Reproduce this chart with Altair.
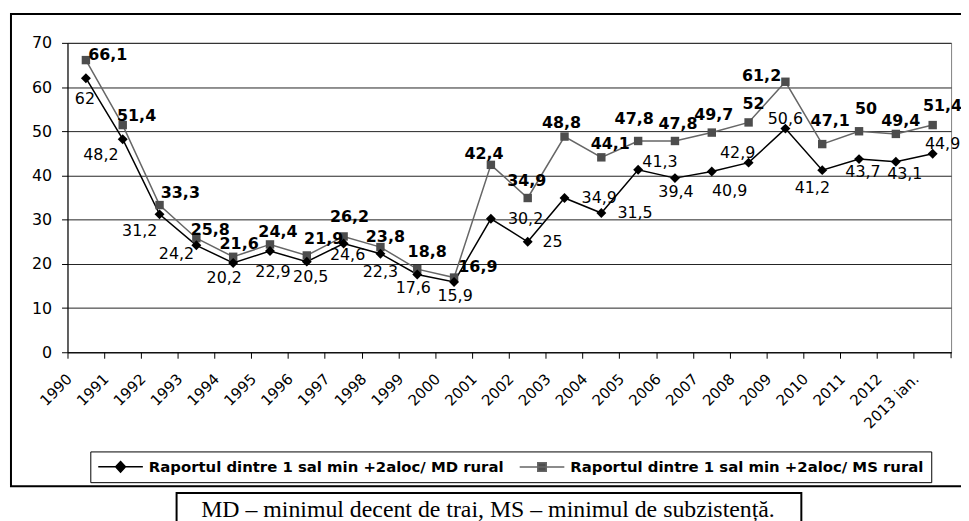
import altair as alt
import pandas as pd

years = ["1990", "1991", "1992", "1993", "1994", "1995", "1996", "1997", "1998",
         "1999", "2000", "2001", "2002", "2003", "2004", "2005", "2006", "2007",
         "2008", "2009", "2010", "2011", "2012", "2013 ian."]
md_values = [62, 48.2, 31.2, 24.2, 20.2, 22.9, 20.5, 24.6, 22.3, 17.6, 15.9, 30.2,
             25, 34.9, 31.5, 41.3, 39.4, 40.9, 42.9, 50.6, 41.2, 43.7, 43.1, 44.9]
ms_values = [66.1, 51.4, 33.3, 25.8, 21.6, 24.4, 21.9, 26.2, 23.8, 18.8, 16.9, 42.4,
             34.9, 48.8, 44.1, 47.8, 47.8, 49.7, 52, 61.2, 47.1, 50, 49.4, 51.4]
md_name = "Raportul dintre 1 sal min +2aloc/ MD rural"
ms_name = "Raportul dintre 1 sal min +2aloc/ MS rural"
footnote = "MD \u2013 minimul decent de trai, MS \u2013 minimul de subzisten\u021b\u0103."
y_ticks = [0, 10, 20, 30, 40, 50, 60, 70]

# label placement offsets (pixels) relative to the points
md_dx = [-1, -22, -20, -20, -9, 3, 4, 4, 0, -4, 1, 35, 25, 35, 34, 22, 1, 18, -11, 0, -10, 4, 9, 10]
md_dy = [21, 16, 17, 9, 15, 21, 16, 12, 19, 14, 14, 0, 0, 0, 0, -8, 14, 20, -10, -10, 18, 13, 12, -10]
ms_dx = [22, 14, 21, 14, 6, 8, 17, 6, 5, 10, 24, -7, -1, -3, 9, -4, 3, 2, 5, -24, 8, 7, 5, 10]
ms_dy = [-5, -9, -12, -8, -13, -12, -17, -20, -10, -17, -11, -11, -17, -14, -13, -22, -17, -18, -19, -6, -23, -22, -13, -19]

W, H = 891, 312
FONT = "DejaVu Sans"
MD_COLOR = "#000000"
MS_LINE = "#666666"
MS_FILL = "#4d4d4d"
HALF_BAND = W / len(years) / 2


def fmt(v):
    return f"{v:g}".replace(".", ",")


md_df = pd.DataFrame({"year": years, "value": md_values, "series": md_name,
                      "label": [fmt(v) for v in md_values], "dx": md_dx, "dy": md_dy})
ms_df = pd.DataFrame({"year": years, "value": ms_values, "series": ms_name,
                      "label": [fmt(v) for v in ms_values], "dx": ms_dx, "dy": ms_dy})
legend_df = pd.DataFrame({"year": [years[0], years[0]], "value": [md_values[0], ms_values[0]],
                          "series": [md_name, ms_name]})

x_enc = alt.X(
    "year:N", sort=years, bandPosition=0.5,
    scale=alt.Scale(type="band", paddingInner=0, paddingOuter=0),
    axis=alt.Axis(title=None, bandPosition=0, labelAngle=-45, labelAlign="right",
                  labelBaseline="middle", labelPadding=18, labelOffset=-HALF_BAND + 2,
                  labelFont=FONT, labelFontSize=15, labelColor="black",
                  tickColor="black", tickSize=6, domainColor="black", grid=False,
                  labelOverlap=False, labelLimit=300, labelBound=False, labelFlush=False),
)
y_enc = alt.Y(
    "value:Q",
    scale=alt.Scale(domain=[0, 70], nice=False, zero=True),
    axis=alt.Axis(title=None, values=y_ticks, labelFont=FONT, labelFontSize=16,
                  labelColor="black", labelPadding=10, tickSize=6, tickColor="black",
                  domainColor="black", grid=True, gridColor="#222222", gridWidth=1),
)

# legend symbols: a line with the marker in the middle (unit = 7.5 px)
md_path = "M-3,0L3,0M0,-0.72L0.66,0L0,0.72L-0.66,0Z"
ms_path = "M-3,0L3,0M-0.57,-0.57L0.57,-0.57L0.57,0.57L-0.57,0.57Z"

legend = alt.Legend(
    title=None, orient="none", legendX=23, legendY=412, direction="horizontal",
    symbolSize=225, symbolOffset=15, symbolStrokeWidth=1.5, symbolOpacity=1,
    labelFont=FONT, labelFontSize=15, labelFontWeight="bold", labelColor="black",
    labelOffset=20, columnPadding=12, padding=7, strokeColor="#000000",
    fillColor="white", labelLimit=1000,
)
dom = [md_name, ms_name]

one = pd.DataFrame({"t": [footnote]})

outer = alt.Chart(one).mark_rect(filled=False, color="black", strokeWidth=2, clip=False).encode(
    x=alt.value(-57), x2=alt.value(910), y=alt.value(-29), y2=alt.value(447))
foot_box = alt.Chart(one).mark_rect(filled=False, color="black", strokeWidth=2, clip=False).encode(
    x=alt.value(110), x2=alt.value(740), y=alt.value(454), y2=alt.value(495))
foot_text = alt.Chart(one).mark_text(font="Liberation Serif", fontSize=24, align="center",
                                     baseline="alphabetic", color="black").encode(
    x=alt.value(424), y=alt.value(478), text="t:N")
end_tick = alt.Chart(one).mark_rule(color="black").encode(
    x=alt.value(W), y=alt.value(H), y2=alt.value(H + 6))

legend_layer = alt.Chart(legend_df).mark_point(filled=True, opacity=0, strokeWidth=1.5).encode(
    x=x_enc, y=y_enc,
    shape=alt.Shape("series:N", scale=alt.Scale(domain=dom, range=[md_path, ms_path]), legend=legend),
    fill=alt.Fill("series:N", scale=alt.Scale(domain=dom, range=[MD_COLOR, MS_FILL]), legend=legend),
    stroke=alt.Stroke("series:N", scale=alt.Scale(domain=dom, range=[MD_COLOR, MS_LINE]), legend=legend),
)

md_line = alt.Chart(md_df).mark_line(strokeWidth=1.5, color=MD_COLOR).encode(x=x_enc, y=y_enc)
ms_line = alt.Chart(ms_df).mark_line(strokeWidth=1.5, color=MS_LINE).encode(x=x_enc, y=y_enc)
md_pts = alt.Chart(md_df).mark_point(shape="diamond", filled=True, size=100,
                                     color=MD_COLOR, opacity=1).encode(x=x_enc, y=y_enc)
ms_pts = alt.Chart(ms_df).mark_point(shape="square", filled=True, size=72,
                                     color=MS_FILL, opacity=1).encode(x=x_enc, y=y_enc)
md_txt = alt.Chart(md_df).mark_text(font=FONT, fontSize=16, color="black", align="center",
                                    baseline="middle", dx={"expr": "datum.dx"},
                                    dy={"expr": "datum.dy"}).encode(x=x_enc, y=y_enc, text="label:N")
ms_txt = alt.Chart(ms_df).mark_text(font=FONT, fontSize=16, fontWeight="bold", color="black",
                                    align="center", baseline="middle", dx={"expr": "datum.dx"},
                                    dy={"expr": "datum.dy"}).encode(x=x_enc, y=y_enc, text="label:N")

chart = alt.layer(outer, foot_box, foot_text, end_tick, ms_line, md_line, ms_pts, md_pts,
                  md_txt, ms_txt, legend_layer).properties(
    width=W, height=H,
    autosize=alt.AutoSizeParams(type="none"),
    padding={"left": 60, "top": 33, "right": 10, "bottom": 168},
    background="white",
).configure_view(stroke="#808080", strokeWidth=1)

chart.save("out.html", embed_options={"renderer": "svg", "actions": False})
